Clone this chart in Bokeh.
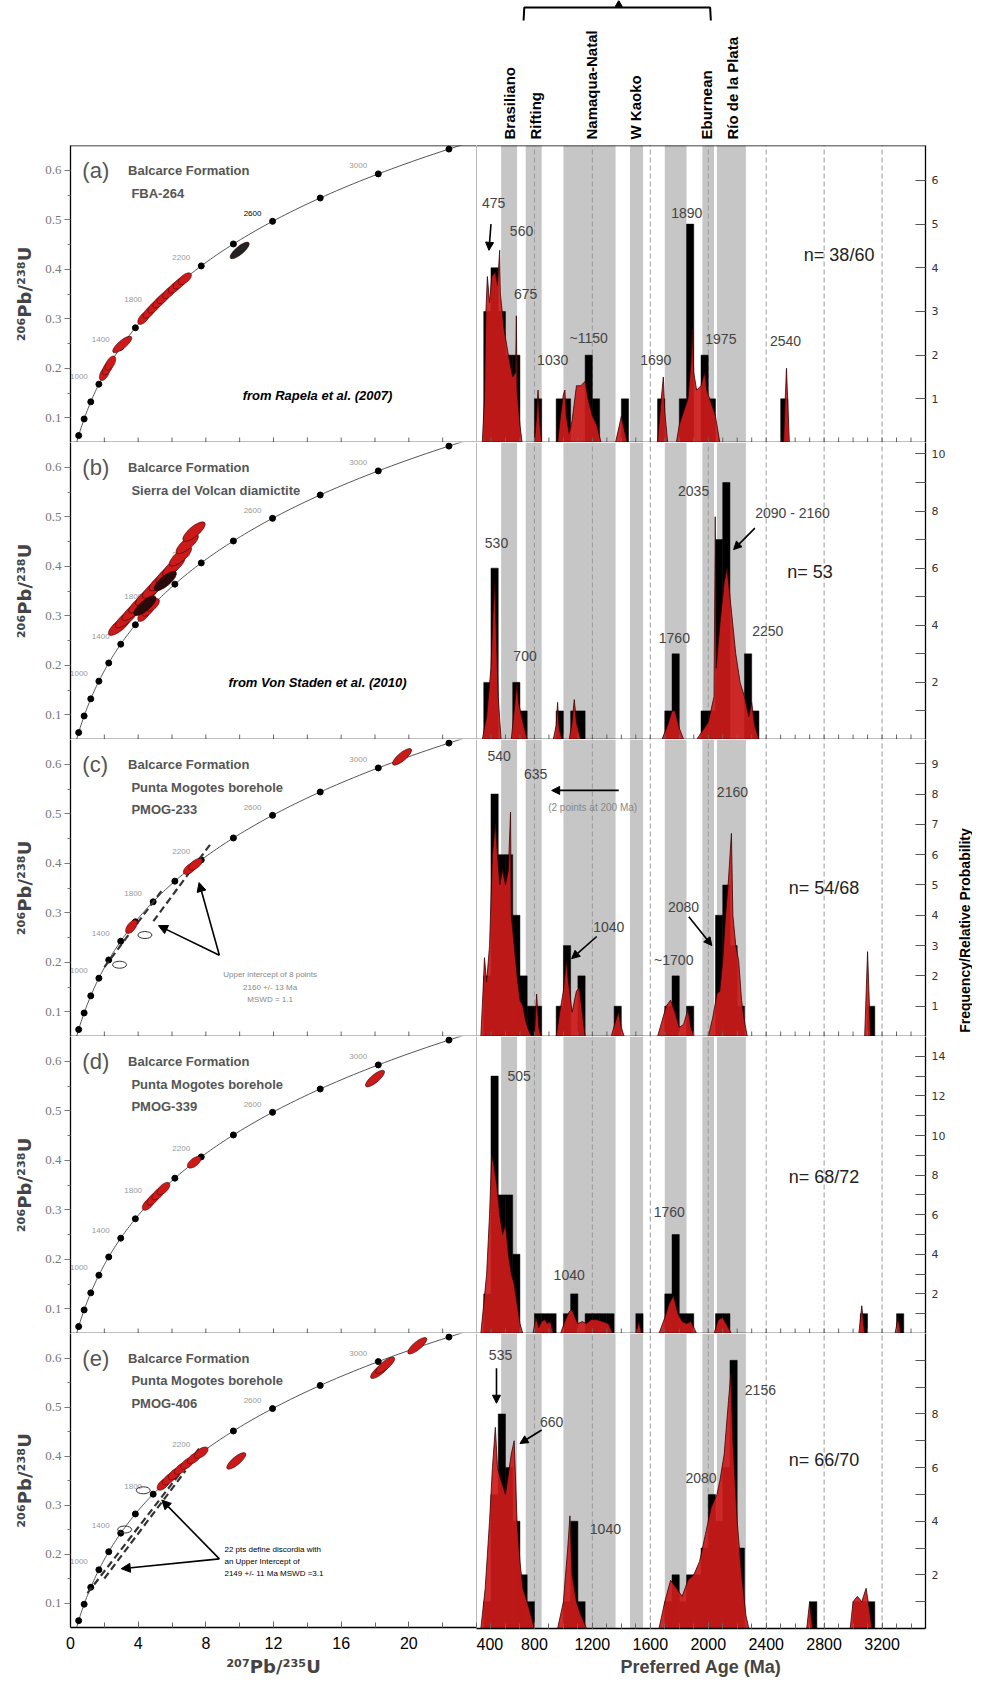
import numpy as np
from bokeh.plotting import figure
from bokeh.layouts import column, row
from bokeh.models import Range1d, FixedTicker, Span, Arrow, NormalHead
from bokeh.embed import file_html
from bokeh.resources import INLINE
from bokeh.core.properties import value

# ---------------------------------------------------------------- data
BAND_LO = [570, 740, 1000, 1460, 1700, 1960, 2060]
BAND_HI = [680, 850, 1360, 1550, 1850, 2040, 2260]
EVENT_NAMES = ["Brasiliano", "Rifting", "Namaqua-Natal", "W Kaoko", "Eburnean", "Río de la Plata"]
EVENT_AGES = [630, 810, 1195, 1495, 1990, 2165]
GRID_AGES = [800, 1200, 1600, 2000, 2400, 2800, 3200]

PANEL_IDS = ["(a)", "(b)", "(c)", "(d)", "(e)"]
PANEL_TITLES = [
    ["Balcarce Formation", "FBA-264"],
    ["Balcarce Formation", "Sierra del Volcan diamictite"],
    ["Balcarce Formation", "Punta Mogotes borehole", "PMOG-233"],
    ["Balcarce Formation", "Punta Mogotes borehole", "PMOG-339"],
    ["Balcarce Formation", "Punta Mogotes borehole", "PMOG-406"],
]
SOURCES = ["from Rapela et al. (2007)", "from Von Staden et al. (2010)", None, None, None]

N_LABELS = ["n= 38/60", "n= 53", "n= 54/68", "n= 68/72", "n= 66/70"]
N_AGE = [2660, 2545, 2555, 2555, 2555]
N_VAL = [4.3, 5.85, 4.9, 7.9, 6.3]

YMAX = [6.8, 10.4, 9.8, 15.0, 11.0]
Y_TICKS = [[1, 2, 3, 4, 5, 6], [2, 4, 6, 8, 10], [1, 2, 3, 4, 5, 6, 7, 8, 9],
           [2, 4, 6, 8, 10, 12, 14], [2, 4, 6, 8]]
Y_MINOR = [[], list(range(1, 11)), [], list(range(1, 15)), list(range(1, 11))]

# histogram: bin start (Ma, 50 Ma bins) and count
BAR_START = [
    [450, 500, 550, 600, 650, 800, 950, 1000, 1150, 1200, 1400, 1650, 1800, 1850, 1950, 2000, 2500],
    [450, 500, 650, 700, 950, 1050, 1100, 1700, 1750, 1950, 2000, 2050, 2100, 2250, 2300],
    [450, 500, 550, 600, 650, 700, 750, 800, 950, 1000, 1100, 1350, 1700, 1750, 1850, 2050, 2100, 2150, 2200, 3100],
    [450, 500, 550, 600, 650, 800, 850, 900, 1000, 1050, 1150, 1200, 1250, 1300, 1500, 1700, 1750, 1800, 1850, 2050, 2100, 3050, 3300],
    [450, 500, 550, 600, 650, 700, 750, 1000, 1050, 1100, 1700, 1750, 1800, 1850, 1900, 1950, 2000, 2050, 2100, 2150, 2200, 2700, 3000, 3050, 3100],
]
BAR_COUNT = [
    [3, 4, 3, 2, 2, 1, 1, 1, 2, 1, 1, 1, 1, 5, 2, 1, 1],
    [2, 6, 2, 1, 1, 1, 1, 1, 3, 1, 1, 7, 9, 3, 1],
    [2, 8, 6, 6, 4, 2, 1, 1, 1, 3, 2, 1, 1, 2, 1, 4, 5, 3, 1, 1],
    [2, 13, 7, 7, 4, 1, 1, 1, 1, 2, 1, 1, 1, 1, 1, 2, 5, 1, 1, 1, 1, 1, 1],
    [1, 5, 8, 6, 4, 2, 1, 1, 4, 1, 1, 2, 1, 2, 2, 3, 5, 4, 6, 10, 3, 1, 1, 1, 1],
]

# relative probability curves (age Ma, value)
PDF_AGE = [
    [440, 455, 465, 475, 490, 505, 530, 545, 560, 565, 590, 620, 650, 670, 675, 680, 700, 715,
     800, 815, 825, 835, 850, 960, 980, 1000, 1010, 1020, 1040, 1060, 1090, 1120, 1150, 1170, 1200, 1230, 1260,
     1360, 1400, 1440, 1650, 1670, 1690, 1700, 1720,
     1780, 1800, 1830, 1860, 1880, 1890, 1900, 1920, 1950, 1975, 1990, 2020, 2050, 2080, 2520, 2540, 2560],
    [440, 470, 500, 515, 525, 535, 550, 570, 640, 660, 680, 690, 720, 750, 930, 950, 960, 970, 990,
     1040, 1060, 1075, 1090, 1120, 1680, 1720, 1750, 1770, 1800, 1830,
     1920, 1960, 2000, 2040, 2048, 2055, 2080, 2110, 2130, 2160, 2190, 2220, 2250, 2280, 2300, 2320, 2350],
    [430, 445, 455, 470, 490, 510, 530, 545, 560, 580, 600, 620, 635, 640, 660, 680, 700, 720, 740, 760, 780,
     800, 815, 830, 845, 950, 975, 1000, 1020, 1035, 1060, 1090, 1110, 1130, 1150,
     1330, 1360, 1380, 1400, 1420, 1650, 1680, 1710, 1740, 1770, 1800, 1830, 1860, 1880, 1900,
     2000, 2030, 2060, 2080, 2100, 2120, 2140, 2160, 2170, 2190, 2210, 2230, 2250, 2270, 3080, 3100, 3120],
    [430, 450, 470, 490, 505, 520, 540, 560, 580, 600, 620, 640, 660, 680, 700, 720,
     790, 810, 830, 850, 870, 890, 910, 930, 980, 1010, 1040, 1060, 1080, 1100, 1130, 1160, 1190, 1230, 1270, 1310, 1340,
     1500, 1520, 1540, 1660, 1700, 1730, 1760, 1790, 1820, 1850, 1880, 1900, 1920,
     2040, 2070, 2100, 2130, 2160, 3040, 3060, 3080, 3290, 3310, 3330],
    [430, 460, 490, 510, 530, 545, 570, 600, 640, 660, 680, 700, 720, 760, 800,
     960, 1000, 1030, 1045, 1060, 1090, 1120, 1160,
     1660, 1700, 1740, 1780, 1820, 1860, 1900, 1940, 1980, 2020, 2060, 2080, 2110, 2140, 2156, 2170, 2200, 2230, 2260, 2280,
     2680, 2700, 2720, 2980, 3000, 3030, 3060, 3090, 3110, 3130],
]
PDF_VAL = [
    [0, 1.0, 3.0, 3.8, 3.2, 3.8, 3.9, 3.6, 4.4, 3.4, 2.6, 2.0, 1.5, 1.6, 2.9, 1.2, 0.4, 0,
     0, 0.6, 1.2, 0.5, 0, 0, 0.6, 1.1, 1.2, 0.6, 0.2, 0.5, 1.3, 1.3, 1.4, 1.0, 0.6, 0.4, 0,
     0, 0.6, 0, 0, 0.8, 1.5, 0.7, 0,
     0, 0.4, 0.7, 1.0, 1.8, 2.6, 1.6, 1.2, 1.3, 1.6, 1.2, 0.9, 0.6, 0, 0, 1.7, 0],
    [0, 0.8, 2.5, 4.5, 5.5, 4.0, 1.5, 0, 0, 1.0, 2.0, 1.3, 0.6, 0, 0, 0.5, 1.3, 0.4, 0,
     0, 0.6, 1.4, 0.6, 0, 0, 0.5, 1.0, 1.0, 0.4, 0,
     0, 0.3, 0.6, 1.5, 7.8, 2.5, 4.0, 5.5, 6.0, 4.5, 3.0, 2.0, 1.5, 0.8, 1.3, 0.5, 0],
    [0, 1.5, 2.6, 1.8, 3.0, 6.0, 7.0, 6.0, 5.0, 5.5, 5.0, 5.5, 7.4, 4.0, 3.0, 2.0, 1.2, 1.0, 0.5, 0.2, 0,
     0, 1.4, 0.3, 0, 0, 0.8, 1.5, 2.5, 1.8, 0.8, 1.5, 1.6, 0.8, 0,
     0, 0.5, 0.8, 0.3, 0, 0, 0.5, 1.0, 1.2, 0.8, 0.3, 0.4, 0.9, 0.3, 0,
     0, 0.6, 1.4, 1.5, 2.5, 4.0, 5.2, 6.7, 4.0, 3.0, 2.5, 1.2, 0.5, 0, 0, 2.8, 0],
    [0, 1.5, 3.0, 6.0, 9.0, 8.5, 7.5, 6.0, 5.0, 5.5, 4.0, 3.0, 2.5, 1.5, 0.5, 0,
     0, 0.8, 0.3, 0.6, 0.7, 0.5, 0.6, 0, 0, 0.6, 1.1, 1.2, 0.8, 0.5, 0.6, 0.5, 0.7, 0.7, 0.6, 0.5, 0,
     0, 0.6, 0, 0, 0.8, 1.5, 1.9, 1.0, 0.6, 0.5, 0.6, 0.3, 0,
     0, 0.7, 0.8, 0.4, 0, 0, 1.4, 0, 0, 0.8, 0],
    [0, 1.5, 4.0, 6.0, 7.5, 6.0, 5.5, 5.0, 6.5, 7.0, 4.0, 2.5, 1.5, 0.8, 0,
     0, 1.0, 3.0, 4.2, 2.0, 1.0, 0.5, 0,
     0, 1.0, 1.8, 1.5, 1.2, 1.8, 2.0, 2.5, 3.5, 4.5, 5.0, 5.5, 6.5, 8.5, 9.5, 7.0, 4.0, 2.0, 0.5, 0,
     0, 1.0, 0, 0, 1.0, 1.2, 1.0, 1.5, 0.8, 0],
]

# peak labels (text, age, value)
PEAK_TEXT = [
    ["475", "560", "675", "1030", "~1150", "1690", "1890", "1975", "2540"],
    ["530", "700", "1760", "2035", "2090 - 2160", "2250"],
    ["540", "635", "1040", "~1700", "2080", "2160"],
    ["505", "1040", "1760"],
    ["535", "660", "1040", "2080", "2156"],
]
PEAK_AGE = [
    [518, 711, 739, 926, 1175, 1638, 1852, 2087, 2534],
    [538, 735, 1766, 1899, 2582, 2411],
    [556, 808, 1313, 1762, 1829, 2167],
    [694, 1040, 1731],
    [566, 919, 1290, 1950, 2360],
]
PEAK_VAL = [
    [5.49, 4.85, 3.39, 1.88, 2.4, 1.9, 5.26, 2.36, 2.33],
    [6.89, 2.94, 3.57, 8.7, 7.94, 3.8],
    [9.27, 8.65, 3.62, 2.53, 4.28, 8.06],
    [13.0, 2.93, 6.14],
    [10.2, 7.7, 3.7, 5.6, 8.9],
]
# arrows in histograms: (panel, age0, val0, age1, val1)
HIST_ARROWS = [
    (0, 500, 5.0, 486, 4.4),
    (1, 2322, 7.4, 2175, 6.65),
    (2, 1230, 3.3, 1057, 2.57),
    (2, 1866, 3.95, 2025, 3.0),
    (2, 1382, 8.12, 919, 8.12),
    (4, 538, 9.7, 538, 8.4),
    (4, 850, 7.4, 700, 6.9),
]

# concordia markers
CONC_DOT_AGES = list(range(200, 3401, 200))
CONC_LABEL_AGES = [1000, 1400, 1800, 2200, 2600, 3000]

# analyses plotted as ellipses: concordant ones given by age, others by ratio
CONC_ELL_AGES = [
    [1120, 1180, 1230, 1700, 1760, 1810, 1860, 1900, 1950, 2000, 2040, 2080],
    [1700, 1750, 1800],
    [1550, 2120, 2160],
    [1750, 1800, 1850, 1900, 2150],
    [1900, 1950, 2000, 2050, 2100, 2150, 2200],
]
DISC_X = [[3.06, 10.0],
          [2.9, 3.3, 3.7, 4.1, 4.5, 4.9, 5.3, 5.7, 6.1, 6.5, 6.9, 7.3, 4.4, 5.6],
          [19.6], [18.0], [18.3, 18.6, 20.5, 9.8]]
DISC_Y = [[0.248, 0.438],
          [0.28, 0.295, 0.31, 0.325, 0.34, 0.355, 0.37, 0.385, 0.40, 0.42, 0.445, 0.47, 0.32, 0.37],
          [0.615], [0.565], [0.575, 0.585, 0.625, 0.39]]
DISC_COLOR = [["#cc1a1a", "#222222"], ["#cc1a1a"] * 12 + ["#2a0a0a"] * 2, ["#cc1a1a"], ["#cc1a1a"], ["#cc1a1a"] * 4]
OPEN_X = [[], [], [4.4, 2.9], [], [4.3, 3.2]]
OPEN_Y = [[], [], [0.255, 0.195], [], [0.33, 0.25]]
# discordia lines (x0, y0, x1, y1)
DISCORDIA = [[], [], [(2.0, 0.19, 5.4, 0.345), (4.9, 0.283, 8.3, 0.44)], [],
             [(1.0, 0.12, 7.6, 0.415), (2.0, 0.15, 6.8, 0.37)]]

NOTE_LINES = [None, None, ["Upper intercept of 8 points", "2160 +/- 13 Ma", "MSWD = 1.1"], None,
              ["22 pts define discordia with", "an Upper Intercept of", "2149 +/- 11 Ma MSWD =3.1"]]
NOTE_X = [None, None, 11.8, None, 9.1]
NOTE_Y = [None, None, 0.175, None, 0.21]
NOTE_ARROWS = [[], [], [(8.8, 0.214, 7.6, 0.361), (8.8, 0.214, 5.2, 0.274)], [],
               [(8.8, 0.19, 5.4, 0.31), (8.8, 0.19, 3.0, 0.17)]]

LEFT_TICKS = [0, 4, 8, 12, 16, 20]
LEFT_MINOR = [2, 6, 10, 14, 18, 22]
AGE_TICKS = [400, 800, 1200, 1600, 2000, 2400, 2800, 3200]
AGE_MINOR = list(range(500, 3500, 100))

RED = "#cc1a1a"
FONT = "Liberation Sans"


def concordia(age_ma):
    t = np.asarray(age_ma, dtype=float) * 1e6
    return np.exp(9.8485e-10 * t) - 1.0, np.exp(1.55125e-10 * t) - 1.0


def conc_angle(age_ma):
    t = np.asarray(age_ma, dtype=float) * 1e6
    dx = 9.8485e-10 * np.exp(9.8485e-10 * t) * (406 / 24.0)
    dy = 1.55125e-10 * np.exp(1.55125e-10 * t) * (297 / 0.6)
    return np.arctan2(dy, dx)


def style_bottom_axis(ax, ticks, minor):
    ax.ticker = FixedTicker(ticks=ticks, minor_ticks=minor)
    ax.major_tick_in = 6
    ax.major_tick_out = 0
    ax.minor_tick_in = 5
    ax.minor_tick_out = 0
    ax.major_tick_line_color = "#666666"
    ax.minor_tick_line_color = "#666666"
    ax.axis_line_color = "black"
    ax.axis_line_width = 1.3
    ax.major_label_text_font = FONT
    ax.major_label_text_font_size = "16px"
    ax.major_label_text_color = "black"
    ax.major_label_standoff = 9
    ax.axis_label_text_font = FONT
    ax.axis_label_text_font_style = "bold"
    ax.axis_label_text_font_size = "18px"
    ax.axis_label_standoff = 4


LEFT_W = 476
RIGHT_W = 480
LABEL_W = 16
PANEL_H = 297
BOTTOM_H = 49

# ---------------------------------------------------------------- header
hdr = figure(width=LEFT_W + RIGHT_W + LABEL_W, height=145, x_range=Range1d(400, 3500), y_range=Range1d(0, 145),
             output_backend="svg", toolbar_location=None, x_axis_location=None, y_axis_location=None,
             min_border_left=476, min_border_right=47, min_border_top=0, min_border_bottom=0)
hdr.grid.visible = False
hdr.outline_line_color = None
hdr.text(x=EVENT_AGES, y=[6] * len(EVENT_AGES), text=EVENT_NAMES, angle=np.pi / 2,
         text_align="left", text_baseline="middle", text_font=value(FONT),
         text_font_style="bold", text_font_size="15px", text_color="black")
hdr.line(x=[725, 730, 1382, 2013, 2018], y=[125, 138, 138, 138, 125], line_color="black", line_width=2)
hdr.scatter(x=[1382], y=[141], marker="triangle", size=7, color="black")

left_col, right_col = [], []
for i in range(5):
    last = i == 4
    hb = BOTTOM_H if last else 0
    # ------------------------------------------------ concordia panel
    L = figure(width=LEFT_W, height=PANEL_H + hb, x_range=Range1d(0, 24), y_range=Range1d(0.05, 0.65),
               output_backend="svg", toolbar_location=None,
               min_border_left=70, min_border_right=0, min_border_top=0, min_border_bottom=hb)
    L.grid.visible = False
    L.outline_line_color = None
    ya = L.yaxis[0]
    ya.ticker = FixedTicker(ticks=[0.1, 0.2, 0.3, 0.4, 0.5, 0.6], minor_ticks=[0.15, 0.25, 0.35, 0.45, 0.55])
    ya.major_tick_out = 6
    ya.major_tick_in = 0
    ya.minor_tick_out = 3
    ya.minor_tick_in = 0
    ya.major_label_text_font = "Liberation Serif"
    ya.major_label_text_font_size = "13px"
    ya.major_label_text_color = "#777777"
    ya.major_tick_line_color = "#777777"
    ya.minor_tick_line_color = "#777777"
    ya.axis_line_color = "black"
    ya.axis_line_width = 1.3
    ya.axis_label = "²⁰⁶Pb/²³⁸U"
    ya.axis_label_text_font = "DejaVu Sans"
    ya.axis_label_text_font_style = "bold"
    ya.axis_label_text_font_size = "18px"
    ya.axis_label_standoff = 7
    ya.major_label_standoff = 3
    if last:
        xa = L.xaxis[0]
        style_bottom_axis(xa, LEFT_TICKS, LEFT_MINOR)
        xa.axis_label = "²⁰⁷Pb/²³⁵U"
        xa.axis_label_text_font = "DejaVu Sans"
    else:
        L.xaxis.visible = False
        L.add_layout(Span(location=0.05, dimension="width", line_color="black", line_width=1.3))
        L.segment(x0=LEFT_MINOR + LEFT_TICKS, y0=0.05, x1=LEFT_MINOR + LEFT_TICKS,
                  y1=0.05 + 0.6 * 5 / 297, line_color="#666666", line_width=1)
    if i == 0:
        L.add_layout(Span(location=0.65, dimension="width", line_color="black", line_width=1.5))

    cx, cy = concordia(np.arange(0, 3601, 20))
    L.line(cx, cy, line_color="#555555", line_width=1)
    dx, dy = concordia(CONC_DOT_AGES)
    L.scatter(dx, dy, size=6, color="black")
    lx, ly = concordia(CONC_LABEL_AGES)
    lab_col = ["#999999"] * len(CONC_LABEL_AGES)
    if i == 0:
        lab_col[CONC_LABEL_AGES.index(2600)] = "black"
    L.text(lx, ly, text=[str(a) for a in CONC_LABEL_AGES], x_offset=-20, y_offset=-8,
           text_align="center", text_baseline="middle", text_font=value(FONT),
           text_font_size="8px", text_color=lab_col)

    for (x0, y0, x1, y1) in DISCORDIA[i]:
        L.line([x0, x1], [y0, y1], line_color="#333333", line_width=2.2, line_dash="7 4")

    ea = CONC_ELL_AGES[i]
    if ea:
        ex, ey = concordia(ea)
        L.ellipse(ex, ey, width=16, height=8, angle=conc_angle(ea), width_units="screen",
                  height_units="screen", fill_color=RED, line_color="#5a0000", line_width=0.6)
    if DISC_X[i]:
        L.ellipse(DISC_X[i], DISC_Y[i], width=28 if i == 1 else 24, height=10 if i == 1 else 8,
                  angle=np.deg2rad(40), width_units="screen",
                  height_units="screen", fill_color=DISC_COLOR[i], line_color="#330000", line_width=0.6)
    if OPEN_X[i]:
        L.ellipse(OPEN_X[i], OPEN_Y[i], width=14, height=7, angle=0.0, width_units="screen",
                  height_units="screen", fill_color=None, line_color="#333333", line_width=1)

    L.text([0.7], [0.6], text=[PANEL_IDS[i]], text_baseline="middle", text_font=value(FONT),
           text_font_size="22px", text_color="#555555")
    for k, t in enumerate(PANEL_TITLES[i]):
        L.text([3.4 if k == 0 else 3.6], [0.6 - 0.046 * k], text=[t], text_baseline="middle",
               text_font=value(FONT), text_font_style="bold", text_font_size="13px", text_color="#555555")
    if SOURCES[i]:
        L.text([14.6], [0.145 if i == 0 else 0.165], text=[SOURCES[i]], text_align="center",
               text_baseline="middle", text_font=value(FONT), text_font_style="bold italic",
               text_font_size="13px", text_color="black")
    if NOTE_LINES[i]:
        for k, t in enumerate(NOTE_LINES[i]):
            L.text([NOTE_X[i]], [NOTE_Y[i] - 0.025 * k], text=[t],
                   text_align="center" if i == 2 else "left", text_baseline="middle",
                   text_font=value(FONT), text_font_size="8px",
                   text_color="#888888" if i == 2 else "black")
        for (x0, y0, x1, y1) in NOTE_ARROWS[i]:
            L.add_layout(Arrow(x_start=x0, y_start=y0, x_end=x1, y_end=y1, line_width=1.6,
                               end=NormalHead(size=9, fill_color="black", line_color="black")))

    # ------------------------------------------------ histogram panel
    ym = YMAX[i]
    R = figure(width=RIGHT_W, height=PANEL_H + hb, x_range=Range1d(400, 3500), y_range=Range1d(0, ym),
               output_backend="svg", toolbar_location=None, y_axis_location="right",
               min_border_left=0, min_border_right=RIGHT_W - 449, min_border_top=0, min_border_bottom=hb)
    R.grid.visible = False
    R.outline_line_color = None
    R.quad(left=BAND_LO, right=BAND_HI, bottom=0, top=ym, fill_color="#c6c6c6", line_color=None)
    R.segment(x0=GRID_AGES, y0=0, x1=GRID_AGES, y1=ym, line_color="#9a9a9a", line_width=1, line_dash="5 3")
    bs = np.array(BAR_START[i], dtype=float)
    R.quad(left=bs, right=bs + 50, bottom=0, top=BAR_COUNT[i], fill_color="black", line_color="black",
           line_width=0.5)
    R.varea(x=PDF_AGE[i], y1=0, y2=PDF_VAL[i], fill_color=RED, fill_alpha=0.92)
    R.line(PDF_AGE[i], PDF_VAL[i], line_color="#3a0000", line_width=0.8)
    R.add_layout(Span(location=400, dimension="height", line_color="#777777", line_width=1))
    if i == 0:
        R.add_layout(Span(location=ym, dimension="width", line_color="black", line_width=1.5))

    R.text(x=PEAK_AGE[i], y=PEAK_VAL[i], text=PEAK_TEXT[i], text_align="center", text_baseline="middle",
           text_font=value(FONT), text_font_size="14px", text_color="#444444")
    R.text(x=[N_AGE[i]], y=[N_VAL[i]], text=[N_LABELS[i]], text_baseline="middle",
           text_font=value(FONT), text_font_size="18px", text_color="#222222")
    if i == 2:
        R.text(x=[1202], y=[7.57], text=["(2 points at 200 Ma)"], text_align="center",
               text_baseline="middle", text_font=value(FONT), text_font_size="10px", text_color="#888888")
    for (pi_, a0, v0, a1, v1) in HIST_ARROWS:
        if pi_ == i:
            R.add_layout(Arrow(x_start=a0, y_start=v0, x_end=a1, y_end=v1, line_width=1.6,
                               end=NormalHead(size=8, fill_color="black", line_color="black")))

    ra = R.yaxis[0]
    ra.ticker = FixedTicker(ticks=Y_TICKS[i], minor_ticks=Y_MINOR[i])
    ra.major_tick_in = 10
    ra.major_tick_out = 0
    ra.minor_tick_in = 10
    ra.minor_tick_out = 0
    ra.major_tick_line_color = "#555555"
    ra.minor_tick_line_color = "#555555"
    ra.axis_line_color = "black"
    ra.axis_line_width = 1.3
    ra.major_label_text_font = "DejaVu Sans"
    ra.major_label_text_font_size = "11px"
    ra.major_label_text_color = "#333333"
    ra.major_label_standoff = 6
    if last:
        rx = R.xaxis[0]
        style_bottom_axis(rx, AGE_TICKS, AGE_MINOR)
        rx.axis_label = "Preferred Age (Ma)"
    else:
        R.xaxis.visible = False
        R.add_layout(Span(location=0, dimension="width", line_color="black", line_width=1.3))
        R.segment(x0=AGE_MINOR, y0=0, x1=AGE_MINOR, y1=ym * 5 / 297, line_color="#666666", line_width=1)
    left_col.append(L)
    right_col.append(R)

# vertical axis title shared by the histogram panels
total_h = 5 * PANEL_H + BOTTOM_H
lab = figure(width=LABEL_W, height=total_h, x_range=Range1d(0, 1), y_range=Range1d(0, total_h),
             output_backend="svg", toolbar_location=None, x_axis_location=None, y_axis_location=None,
             min_border_left=0, min_border_right=0, min_border_top=0, min_border_bottom=0)
lab.grid.visible = False
lab.outline_line_color = None
lab.text(x=[0.5], y=[total_h - 785], text=["Frequency/Relative Probability"], angle=np.pi / 2,
         text_align="center", text_baseline="middle", text_font=value(FONT), text_font_style="bold",
         text_font_size="14px", text_color="black")

layout = column(hdr, row(column(*left_col), column(*right_col), lab))
open("out.html", "w").write(file_html(layout, INLINE))
